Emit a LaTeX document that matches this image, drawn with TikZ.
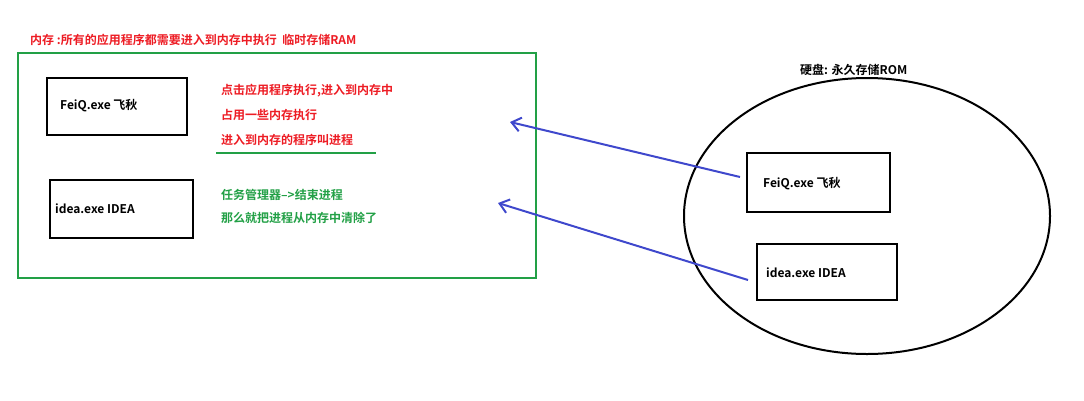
\documentclass[tikz,border=0pt]{standalone}
\usepackage{fontspec}
\setmainfont{Noto Sans CJK SC}[BoldFont={* Bold}]
\usetikzlibrary{arrows.meta}
\definecolor{myred}{RGB}{237,28,36}
\definecolor{mygreen}{RGB}{34,160,70}
\definecolor{myblue}{RGB}{63,72,204}
\begin{document}
\begin{tikzpicture}[x=1pt,y=-1pt,
  box/.style={draw,line width=2pt},
  lbl/.style={anchor=west,font=\bfseries\fontsize{12}{14}\selectfont,inner sep=0pt},
  arr/.style={myblue,line width=2pt,-{Straight Barb[length=9pt,width=14pt]}}]
\useasboundingbox (0,0) rectangle (1084,400);
\node[lbl,text=myred] (t) at (30,40) {内存 :所有的应用程序都需要进入到内存中执行\ \ 临时存储RAM};
\draw[mygreen,line width=2.5pt] (18,53) rectangle (536,278);
\draw[box] (47,78) rectangle (187,135);
\node[lbl] (f1) at (60,106) {FeiQ.exe 飞秋};
\draw[box] (50,180) rectangle (193,238);
\node[lbl] (i1) at (55,209) {idea.exe IDEA};
\node[lbl,text=myred] (r1) at (221,91) {点击应用程序执行,进入到内存中};
\node[lbl,text=myred] (r2) at (221,115) {占用一些内存执行};
\node[lbl,text=myred] (r3) at (221,140) {进入到内存的程序叫进程};
\draw[mygreen,line width=2pt] (216,153) -- (376,153);
\node[lbl,text=mygreen] (g1) at (221,195) {任务管理器-->结束进程};
\node[lbl,text=mygreen] (g2) at (221,218) {那么就把进程从内存中清除了};
\draw[line width=2pt] (867,216) ellipse (183 and 138);
\node[lbl] (h) at (800,70) {硬盘: 永久存储ROM};
\draw[box] (747,153) rectangle (890,212);
\node[lbl] (f2) at (763,184) {FeiQ.exe 飞秋};
\draw[box] (757,244) rectangle (897,300);
\node[lbl] (i2) at (766,273) {idea.exe IDEA};
\coordinate (a1) at (740,177); \coordinate (b1) at (510,122);
\coordinate (a2) at (748,280); \coordinate (b2) at (498,203);
\draw[arr] (a1) -- (b1);
\draw[arr] (a2) -- (b2);
\end{tikzpicture}
\end{document}
